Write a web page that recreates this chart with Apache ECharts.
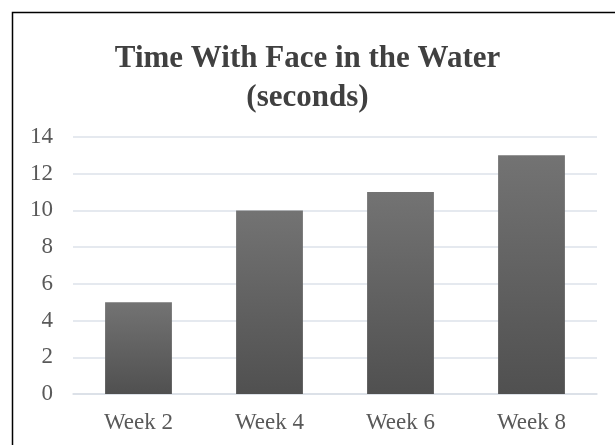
<!DOCTYPE html>
<html>
<head>
<meta charset="utf-8">
<script src="https://cdn.jsdelivr.net/npm/echarts@6/dist/echarts.min.js"></script>
<style>
  html, body { margin: 0; padding: 0; background: #ffffff; }
  #chart { width: 615px; height: 445px; }
</style>
</head>
<body>
<div id="chart"></div>
<script>
// Swim lesson progress: seconds with face in the water
var weeks = ['Week 2', 'Week 4', 'Week 6', 'Week 8'];
var seconds = [5, 10, 11, 13];
var yTicks = [0, 2, 4, 6, 8, 10, 12, 14];

var serif = '"Liberation Serif", "Times New Roman", serif';
var chart = echarts.init(document.getElementById('chart'), null, { renderer: 'canvas' });

chart.setOption({
  backgroundColor: '#ffffff',
  animation: false,
  graphic: [{
    type: 'rect',
    left: 10, top: 10,
    shape: { width: 700, height: 500 },
    style: { fill: 'none', stroke: '#000000', lineWidth: 1.5 },
    silent: true
  }],
  title: {
    text: 'Time With Face in the Water\n(seconds)',
    left: 'center',
    top: 34,
    textStyle: {
      fontFamily: serif,
      fontWeight: 'bold',
      fontSize: 31,
      lineHeight: 39,
      color: '#404040'
    }
  },
  grid: { left: 73, right: 18, top: 137, bottom: 51, containLabel: false },
  xAxis: {
    type: 'category',
    data: weeks,
    axisLine: { show: true, lineStyle: { color: '#d9dee6', width: 1.5 } },
    axisTick: { show: false },
    axisLabel: { fontFamily: serif, fontSize: 23, color: '#595959', margin: 17 }
  },
  yAxis: {
    type: 'value',
    min: yTicks[0],
    max: yTicks[yTicks.length - 1],
    interval: 2,
    axisLine: { show: false },
    axisTick: { show: false },
    splitLine: { lineStyle: { color: '#dde2ea', width: 1.5 } },
    axisLabel: { fontFamily: serif, fontSize: 23, color: '#595959', margin: 20 }
  },
  series: [{
    type: 'bar',
    data: seconds,
    barWidth: '51%',
    itemStyle: {
      color: new echarts.graphic.LinearGradient(0, 0, 0, 1, [
        { offset: 0, color: '#737373' },
        { offset: 1, color: '#505050' }
      ])
    }
  }]
});
</script>
</body>
</html>
